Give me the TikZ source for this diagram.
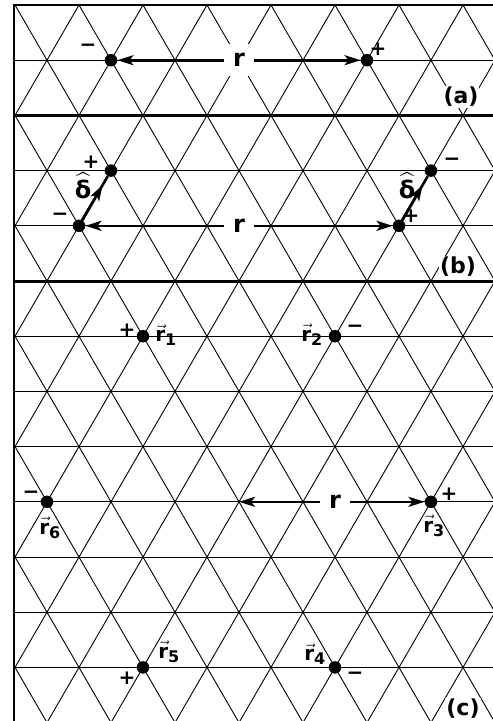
\documentclass[tikz,border=0pt]{standalone}
\usepackage{amsmath}
\usepackage{fontspec}
\setmainfont{DejaVu Sans}
\setsansfont{DejaVu Sans}
\usetikzlibrary{arrows.meta,calc}
\newcommand{\myrvec}[1]{$\vec{\text{r}}_{\textstyle\text{\fontsize{16}{16}\selectfont #1}}$}
\begin{document}
\begin{tikzpicture}[x=1pt,y=-1pt,
  latline/.style={line width=0.9pt},
  thickline/.style={line width=2.6pt},
  chargedot/.style={circle,fill=black,inner sep=0pt,minimum size=12.5pt},
  arr/.style={line width=2.6pt,-{Stealth[length=16pt,width=10pt,inset=4pt]}},
  shaft/.style={line width=2.6pt},
  lab/.style={font=\bfseries\fontsize{22}{22}\selectfont,inner sep=1pt},
  pm/.style={font=\bfseries\fontsize{20}{20}\selectfont,inner sep=0pt},
  rlab/.style={font=\bfseries\fontsize{24}{24}\selectfont,fill=white,inner sep=0pt,minimum width=30pt,minimum height=32pt},
  paneltag/.style={lab,fill=white,inner sep=1pt},
  vlab/.style={font=\bfseries\fontsize{20}{20}\selectfont,inner sep=0pt},
  dlab/.style={font=\bfseries\fontsize{24}{24}\selectfont,inner sep=0pt}]
\useasboundingbox (0,0) rectangle (493,721);
% lattice
\begin{scope}
\clip (14,5) rectangle (493,721);
\foreach \k in {0,...,13} {\draw[latline] (0,{5+55.2*\k}) -- (493,{5+55.2*\k});}
\foreach \j in {-8,...,16} {
  \draw[latline] ({15+64*\j},5) -- ({15+64*\j+32*14},{5+55.2*14});
  \draw[latline] ({15+64*\j},5) -- ({15+64*\j-32*14},{5+55.2*14});
}
\end{scope}
% frame and dividers
\draw[thickline] (14,721) -- (14,5) -- (493,5);
\draw[thickline] (14,115.4) -- (493,115.4);
\draw[thickline] (14,281.4) -- (493,281.4);
% ---------- panel (a)
\node[chargedot] (am) at (111,60.2) {};
\node[chargedot] (ap) at (367,60.2) {};
\node[rlab] (ra) at (239,60.2) {r};
\draw[arr] (ra) -- (am);
\draw[arr] (ra) -- (ap);
\node[pm] at (88,48) {−};
\node[pm] at (378,49) {+};
\node[paneltag] at (461,97) {(a)};
% ---------- panel (b)
\node[chargedot] (bm) at (79,225.8) {};
\node[chargedot] (bp) at (111,170.6) {};
\node[chargedot] (cp) at (399,225.8) {};
\node[chargedot] (cm) at (431,170.6) {};
\node[rlab] (rb) at (239,225.8) {r};
\draw[arr] (rb) -- (bm);
\draw[arr] (rb) -- (cp);
\coordinate (bmid) at ($(bm)!0.74!(bp)$);
\coordinate (cmid) at ($(cp)!0.74!(cm)$);
\draw[shaft] (bm) -- (bp);
\draw[arr] (bm) -- (bmid);
\draw[shaft] (cp) -- (cm);
\draw[arr] (cp) -- (cmid);
\node[dlab] at (83,186) {$\widehat{\text{δ}}$};
\node[dlab] at (407,186) {$\widehat{\text{δ}}$};
\node[pm] at (91,162) {+};
\node[pm] at (60,217) {−};
\node[pm] at (452,162) {−};
\node[pm] at (411,216) {+};
\node[paneltag] at (458,267) {(b)};
% ---------- panel (c)
\node[chargedot] (r1) at (143,336.2) {};
\node[chargedot] (r2) at (335,336.2) {};
\node[chargedot] (r6) at (47,501.8) {};
\node[chargedot] (r3) at (431,501.8) {};
\node[chargedot] (r5) at (143,667.4) {};
\node[chargedot] (r4) at (335,667.4) {};
\coordinate (cl) at (239,501.8);
\node[rlab] (rc) at (335,501.8) {r};
\draw[arr] (rc) -- (cl);
\draw[arr] (rc) -- (r3);
\node[pm] at (127,330) {+};
\node[vlab] at (166,335) {\myrvec{1}};
\node[vlab] at (312,335) {\myrvec{2}};
\node[pm] at (355,329) {−};
\node[pm] at (31,495) {−};
\node[vlab] at (50,528) {\myrvec{6}};
\node[pm] at (449,494) {+};
\node[vlab] at (434,526) {\myrvec{3}};
\node[vlab] at (169,652) {\myrvec{5}};
\node[pm] at (127,678) {+};
\node[vlab] at (315,654) {\myrvec{4}};
\node[pm] at (355,676) {−};
\node[paneltag] at (463,709) {(c)};
\end{tikzpicture}
\end{document}
